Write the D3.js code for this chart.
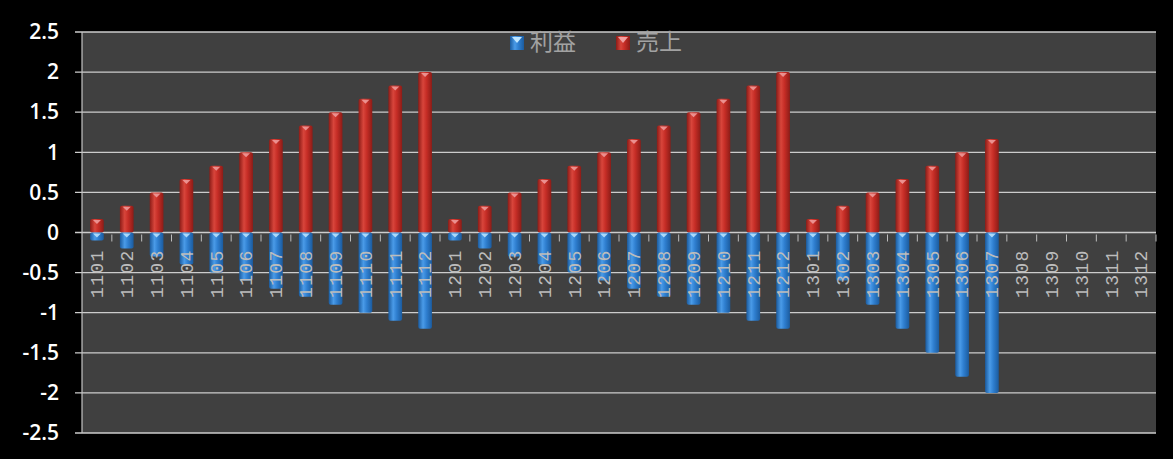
<!DOCTYPE html>
<html><head><meta charset="utf-8">
<script src="https://cdn.jsdelivr.net/npm/d3@7"></script>
<style>
html,body{margin:0;padding:0;background:#000;}
svg{display:block;}
</style></head>
<body><svg id="c" width="1173" height="459"></svg>
<script>
const categories = ["1101","1102","1103","1104","1105","1106","1107","1108","1109","1110","1111","1112",
  "1201","1202","1203","1204","1205","1206","1207","1208","1209","1210","1211","1212",
  "1301","1302","1303","1304","1305","1306","1307","1308","1309","1310","1311","1312"];
const profit = [-0.1,-0.2,-0.3,-0.4,-0.5,-0.6,-0.7,-0.8,-0.9,-1.0,-1.1,-1.2,
  -0.1,-0.2,-0.3,-0.4,-0.5,-0.6,-0.7,-0.8,-0.9,-1.0,-1.1,-1.2,
  -0.3,-0.6,-0.9,-1.2,-1.5,-1.8,-2.0,null,null,null,null,null];
const sales = [0.167,0.333,0.5,0.667,0.833,1.0,1.167,1.333,1.5,1.667,1.833,2.0,
  0.167,0.333,0.5,0.667,0.833,1.0,1.167,1.333,1.5,1.667,1.833,2.0,
  0.167,0.333,0.5,0.667,0.833,1.0,1.167,null,null,null,null,null];
const yTicks = [2.5,2,1.5,1,0.5,0,-0.5,-1,-1.5,-2,-2.5];
const seriesNames = ["利益","売上"];

const svg = d3.select("#c");
const L = 82, R = 1156, T = 32, B = 433;
const x = d3.scaleBand().domain(categories).range([L, R]).paddingInner(0.54).paddingOuter(0.27);
const y = d3.scaleLinear().domain([-2.5, 2.5]).range([B, T]);

const defs = svg.append("defs");
function grad(id, edge, mid, light){
  const g = defs.append("linearGradient").attr("id", id).attr("x1","0").attr("x2","1").attr("y1","0").attr("y2","0");
  g.append("stop").attr("offset","0%").attr("stop-color", edge);
  g.append("stop").attr("offset","35%").attr("stop-color", light);
  g.append("stop").attr("offset","60%").attr("stop-color", mid);
  g.append("stop").attr("offset","100%").attr("stop-color", edge);
}
grad("gRed", "#8c1c17", "#c62d26", "#d8453b");
grad("gBlue", "#1b5b9e", "#2f7fd0", "#4a9be8");

// plot area
svg.append("rect").attr("x", L).attr("y", T).attr("width", R - L).attr("height", B - T).attr("fill", "#404040");

// gridlines + ticks
svg.append("g").selectAll("line").data(yTicks).join("line")
  .attr("x1", L - 7).attr("x2", R).attr("y1", d => y(d)).attr("y2", d => y(d))
  .attr("stroke", "#cccccc").attr("stroke-width", 1.3);
// y axis line
svg.append("line").attr("x1", L).attr("x2", L).attr("y1", T).attr("y2", B).attr("stroke", "#c4c4c4").attr("stroke-width", 1.2);

// y labels
const yAxis = d3.axisLeft(y).tickValues(yTicks).tickSize(0).tickPadding(23).tickFormat(d => String(d));
const ya = svg.append("g").attr("transform", `translate(${L},0)`).call(yAxis);
ya.select(".domain").remove();
ya.selectAll("text").attr("fill", "#fff").attr("font-family", "Open Sans, Liberation Sans, sans-serif")
  .attr("font-size", 21).attr("font-weight", "600");

// category tick marks at boundaries
const bounds = d3.range(1, categories.length + 1).map(i => L + i * (R - L) / categories.length);
svg.append("g").selectAll("line").data(bounds).join("line")
  .attr("x1", d => d).attr("x2", d => d).attr("y1", y(0) + 2).attr("y2", y(0) + 9)
  .attr("stroke", "#bdbdbd").attr("stroke-width", 1);

// bars
const bw = x.bandwidth();
function drawBars(vals, fill, cap){
  const g = svg.append("g");
  const data = categories.map((c, i) => ({c, v: vals[i]})).filter(d => d.v != null);
  g.selectAll("rect").data(data).join("rect")
    .attr("x", d => x(d.c)).attr("width", bw)
    .attr("y", d => Math.min(y(d.v), y(0))).attr("height", d => Math.abs(y(d.v) - y(0)))
    .attr("rx", 2).attr("fill", fill);
  g.selectAll("path").data(data).join("path")
    .attr("d", d => {
      const top = Math.min(y(d.v), y(0));
      const cx = x(d.c) + bw / 2;
      return `M${cx - 4},${top + 1}L${cx + 4},${top + 1}L${cx},${top + 5}Z`;
    })
    .attr("fill", cap).attr("opacity", 0.85);
}
drawBars(sales, "url(#gRed)", "#f0a0a0");
drawBars(profit, "url(#gBlue)", "#bfe6ff");

// x labels rotated
svg.append("g").selectAll("text").data(categories).join("text")
  .attr("transform", d => `translate(${x(d) + bw / 2},${y(0) + 17}) rotate(-90)`)
  .attr("text-anchor", "end").attr("dy", "0.35em")
  .attr("fill", "#bcbcbc").attr("font-family", "Liberation Mono, DejaVu Sans Mono, monospace")
  .attr("font-size", 18).attr("letter-spacing", 1.3)
  .text(d => d);

// legend
const leg = svg.append("g");
const legItems = [
  {name: seriesNames[0], fill: "url(#gBlue)", cap: "#bfe6ff", x: 510},
  {name: seriesNames[1], fill: "url(#gRed)", cap: "#f0a0a0", x: 616}
];
legItems.forEach(it => {
  leg.append("rect").attr("x", it.x).attr("y", 36).attr("width", 14).attr("height", 14).attr("fill", it.fill);
  leg.append("path").attr("d", `M${it.x + 2},${37}L${it.x + 12},${37}L${it.x + 7},${43}Z`).attr("fill", it.cap);
  leg.append("text").attr("x", it.x + 20).attr("y", 42).attr("dy", "0.35em")
    .attr("fill", "#a2a2a2").attr("font-family", "Noto Sans CJK JP, sans-serif").attr("font-size", 23)
    .text(it.name);
});
</script></body></html>
